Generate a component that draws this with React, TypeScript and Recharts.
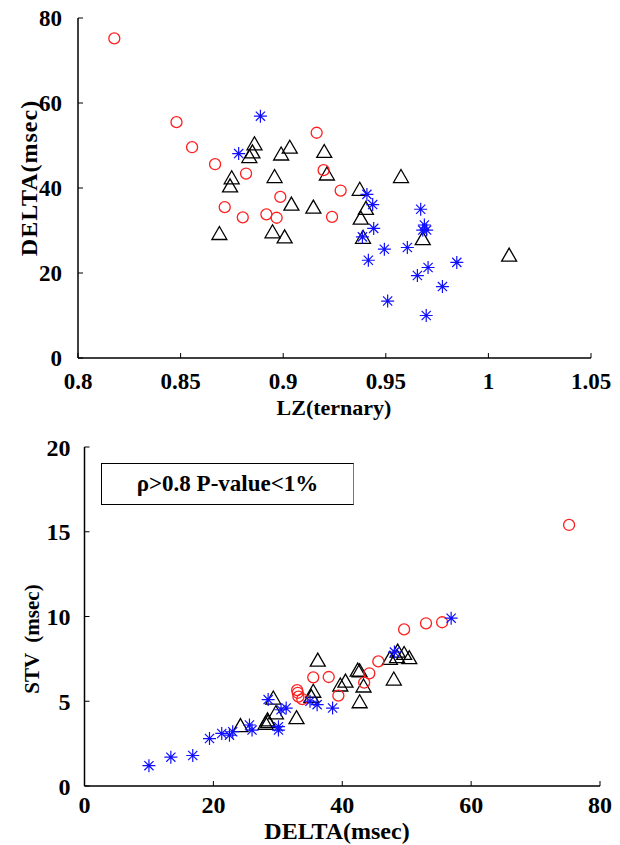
import React from "react";
import { ScatterChart, Scatter, XAxis, YAxis } from "recharts";

// three groups of subjects: LZ(ternary), DELTA and STV per subject
const starLZ = [0.9697, 0.9509, 0.9776, 0.9654, 0.9706, 0.9846, 0.9415, 0.9493, 0.9605, 0.9386, 0.968, 0.9699, 0.9441, 0.9688, 0.967, 0.9436, 0.9408, 0.8783, 0.8889];
const starDelta = [10.0, 13.4, 16.8, 19.4, 21.3, 22.5, 23.0, 25.6, 26.0, 28.5, 30.1, 30.1, 30.5, 31.3, 35.0, 36.1, 38.5, 48.1, 56.9];
const starSTV = [1.2, 1.7, 1.8, 2.8, 3.1, 3.0, 3.2, 3.6, 3.3, 5.1, 3.5, 3.3, 4.5, 4.6, 5.0, 4.8, 4.6, 7.9, 9.9];

const circleLZ = [0.8968, 0.8803, 0.9238, 0.8918, 0.8715, 0.8986, 0.928, 0.8819, 0.9197, 0.8668, 0.8556, 0.9163, 0.848, 0.8177];
const circleDelta = [33.0, 33.1, 33.2, 33.8, 35.5, 37.9, 39.4, 43.4, 44.2, 45.6, 49.6, 53.0, 55.5, 75.2];
const circleSTV = [5.66, 5.5, 5.27, 5.13, 6.41, 6.43, 5.33, 6.1, 6.65, 7.35, 9.24, 9.6, 9.66, 15.4];

const triLZ = [1.0101, 0.968, 0.9389, 0.9007, 0.8689, 0.8948, 0.9378, 0.9403, 0.9147, 0.904, 0.9373, 0.8741, 0.8749, 0.8958, 0.9574, 0.9213, 0.8835, 0.899, 0.885, 0.92, 0.9032, 0.886];
const triDelta = [24.2, 28.1, 28.4, 28.5, 29.3, 29.7, 32.9, 35.2, 35.5, 36.2, 39.7, 40.5, 42.4, 42.7, 42.7, 43.3, 47.4, 48.0, 48.5, 48.6, 49.6, 50.4];
const triSTV = [3.56, 3.7, 3.9, 3.8, 5.19, 4.32, 4.03, 5.27, 5.59, 7.43, 5.96, 6.19, 6.84, 6.8, 4.97, 5.9, 7.53, 6.31, 7.63, 7.96, 7.82, 7.57];

const lzTicks = [0.8, 0.85, 0.9, 0.95, 1, 1.05];
const deltaTicksTop = [0, 20, 40, 60, 80];
const deltaTicks = [0, 20, 40, 60, 80];
const stvTicks = [0, 5, 10, 15, 20];

const annotation = "ρ>0.8 P-value<1%";

const FONT = '"Liberation Serif", "Times New Roman", serif';

const pts = (xs: number[], ys: number[]) => xs.map((x, i) => ({ x, y: ys[i] }));

const axisLine = { stroke: "#000", strokeWidth: 1.5 };
const tickLine = { stroke: "#000", strokeWidth: 1 };
const noLabel = () => <g />;

// tick label drawn at the position recharts computes
const makeTick = (size: number, horizontal: boolean) => (p: any) => (
  <text
    x={p.x}
    y={p.y}
    dy={horizontal ? "0.72em" : "0.36em"}
    textAnchor={horizontal ? "middle" : "end"}
    fontFamily={FONT}
    fontWeight="bold"
    style={{ fontFamily: FONT, fontWeight: 700, fontSize: size, fill: "#000" }}
  >
    {String(p.payload.value)}
  </text>
);

function Circle(p: any) {
  if (p.cx == null) return <g />;
  return <circle cx={p.cx} cy={p.cy} r={5.5} fill="none" stroke="#ff1f1f" strokeWidth={1.3} />;
}

function Triangle(p: any) {
  if (p.cx == null) return <g />;
  const { cx, cy } = p;
  return (
    <path
      d={`M${cx},${cy - 7}L${cx + 7.5},${cy + 6}L${cx - 7.5},${cy + 6}Z`}
      fill="none"
      stroke="#000"
      strokeWidth={1.3}
    />
  );
}

function Star(p: any) {
  if (p.cx == null) return <g />;
  const { cx, cy } = p;
  const r = 6.5;
  const d = 4.6;
  return (
    <path
      d={`M${cx - r},${cy}H${cx + r}M${cx},${cy - r}V${cy + r}M${cx - d},${cy - d}L${cx + d},${cy + d}M${cx - d},${cy + d}L${cx + d},${cy - d}`}
      stroke="#1010ff"
      strokeWidth={1.2}
      fill="none"
    />
  );
}

function Title({ x, y, size, text, rotate, spacing }: { x: number; y: number; size: number; text: string; rotate?: boolean; spacing?: number }) {
  return (
    <text
      x={0}
      y={0}
      transform={rotate ? `translate(${x},${y}) rotate(-90)` : `translate(${x},${y})`}
      textAnchor="middle"
      style={{ fontFamily: FONT, fontWeight: 700, fontSize: size, fill: "#000", whiteSpace: "pre", letterSpacing: spacing || 0 }}
    >
      {text}
    </text>
  );
}

function TopChart() {
  return (
    <ScatterChart width={620} height={430} margin={{ top: 18, right: 29, bottom: 0, left: 0 }}>
      <XAxis
        type="number"
        dataKey="x"
        domain={[0.8, 1.05]}
        ticks={lzTicks}
        interval={0}
        allowDataOverflow
        height={72}
        tickSize={-5}
        tickMargin={19}
        tick={makeTick(23, true)}
        axisLine={axisLine}
        tickLine={tickLine}
        label={{ content: () => <Title x={334} y={415} size={22} text="LZ(ternary)" /> }}
      />
      <XAxis
        xAxisId="top"
        orientation="top"
        type="number"
        domain={[0.8, 1.05]}
        ticks={lzTicks}
        interval={0}
        allowDataOverflow
        height={0}
        tickSize={-5}
        tick={noLabel}
        axisLine={axisLine}
        tickLine={tickLine}
      />
      <YAxis
        type="number"
        dataKey="y"
        domain={[0, 80]}
        ticks={deltaTicksTop}
        interval={0}
        allowDataOverflow
        width={78}
        tickSize={-5}
        tickMargin={21}
        tick={makeTick(23, false)}
        axisLine={axisLine}
        tickLine={tickLine}
        label={{ content: () => <Title x={37} y={178} size={24} spacing={1} text="DELTA(msec)" rotate /> }}
      />
      <YAxis
        yAxisId="right"
        orientation="right"
        type="number"
        domain={[0, 80]}
        ticks={deltaTicksTop}
        interval={0}
        allowDataOverflow
        width={0}
        tickSize={-5}
        tick={noLabel}
        axisLine={axisLine}
        tickLine={tickLine}
      />
      <Scatter data={pts(triLZ, triDelta)} shape={(p: any) => <Triangle {...p} />} isAnimationActive={false} />
      <Scatter data={pts(circleLZ, circleDelta)} shape={(p: any) => <Circle {...p} />} isAnimationActive={false} />
      <Scatter data={pts(starLZ, starDelta)} shape={(p: any) => <Star {...p} />} isAnimationActive={false} />
    </ScatterChart>
  );
}

function BottomChart() {
  return (
    <ScatterChart width={620} height={415} margin={{ top: 17, right: 20, bottom: 0, left: 0 }}>
      <XAxis
        type="number"
        dataKey="x"
        domain={[0, 80]}
        ticks={deltaTicks}
        interval={0}
        allowDataOverflow
        height={59}
        tickSize={-5}
        tickMargin={15}
        tick={makeTick(24, true)}
        axisLine={axisLine}
        tickLine={tickLine}
        label={{ content: () => <Title x={337} y={409} size={24} text="DELTA(msec)" /> }}
      />
      <XAxis
        xAxisId="top"
        orientation="top"
        type="number"
        domain={[0, 80]}
        ticks={deltaTicks}
        interval={0}
        allowDataOverflow
        height={0}
        tickSize={-5}
        tick={noLabel}
        axisLine={axisLine}
        tickLine={tickLine}
      />
      <YAxis
        type="number"
        dataKey="y"
        domain={[0, 20]}
        ticks={stvTicks}
        interval={0}
        allowDataOverflow
        width={84.5}
        tickSize={-5}
        tickMargin={19}
        tick={makeTick(24, false)}
        axisLine={axisLine}
        tickLine={tickLine}
        label={{ content: () => <Title x={39} y={209} size={21} text="STV  (msec)" rotate /> }}
      />
      <YAxis
        yAxisId="right"
        orientation="right"
        type="number"
        domain={[0, 20]}
        ticks={stvTicks}
        interval={0}
        allowDataOverflow
        width={0}
        tickSize={-5}
        tick={noLabel}
        axisLine={axisLine}
        tickLine={tickLine}
      />
      <Scatter data={pts(triDelta, triSTV)} shape={(p: any) => <Triangle {...p} />} isAnimationActive={false} />
      <Scatter data={pts(circleDelta, circleSTV)} shape={(p: any) => <Circle {...p} />} isAnimationActive={false} />
      <Scatter data={pts(starDelta, starSTV)} shape={(p: any) => <Star {...p} />} isAnimationActive={false} />
    </ScatterChart>
  );
}

export default function App() {
  return (
    <div style={{ position: "absolute", left: 0, top: 0, width: 620, height: 845, background: "#fff", overflow: "hidden" }}>
      <div style={{ position: "absolute", left: 0, top: 0 }}>
        <TopChart />
      </div>
      <div style={{ position: "absolute", left: 0, top: 430 }}>
        <BottomChart />
      </div>
      <div
        style={{
          position: "absolute",
          left: 101,
          top: 463,
          width: 251,
          height: 40,
          border: "1.5px solid #000",
          borderRightColor: "#777",
          display: "flex",
          alignItems: "center",
          justifyContent: "center",
          fontFamily: FONT,
          fontWeight: 700,
          fontSize: 23,
          color: "#000",
        }}
      >
        {annotation}
      </div>
    </div>
  );
}
